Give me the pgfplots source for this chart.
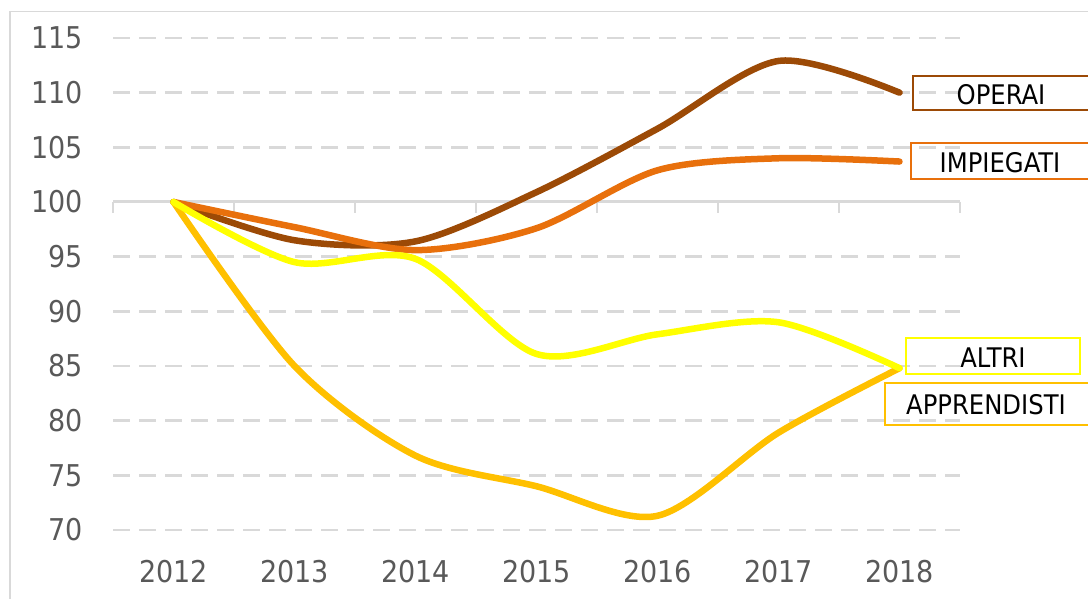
\documentclass[border=0pt]{standalone}
\usepackage{fontspec}
\setmainfont{DejaVu Sans Condensed}
\usepackage{pgfplots}
\pgfplotsset{compat=1.18}
\definecolor{cOper}{HTML}{9C4A06}
\definecolor{cImp}{HTML}{E8700C}
\definecolor{cAltri}{HTML}{FFFF00}
\definecolor{cApp}{HTML}{FFC000}
\definecolor{gridc}{HTML}{D9D9D9}
\definecolor{tickc}{HTML}{595959}
\begin{document}
\begin{tikzpicture}[x=1pt,y=1pt]
\useasboundingbox (0,0) rectangle (1088,599);
\draw[gridc, line width=1.5pt] (10,-20) -- (10,587.5) -- (1110,587.5);
\begin{axis}[at={(113pt,69pt)}, anchor=south west, scale only axis,
  width=847pt, height=492pt,
  xmin=2011.5, xmax=2018.5, ymin=70, ymax=115,
  clip=false, no markers,
  axis line style={draw=none},
  major tick style={draw=none},
  xtick={2012,2013,2014,2015,2016,2017,2018},
  xticklabels={2012,2013,2014,2015,2016,2017,2018},
  ytick={70,75,80,85,90,95,100,105,110,115},
  ymajorgrids,
  grid style={gridc, line width=2.5pt, dash pattern=on 17pt off 9pt},
  /pgf/number format/assume math mode=true,
  ticklabel style={font=\fontsize{30}{33}\selectfont, text=tickc, inner sep=0pt},
  xticklabel style={anchor=north, yshift=-30pt},
  yticklabel style={anchor=east, xshift=-30pt},
]
\draw[gridc, line width=3pt] (axis cs:2011.5,100) -- (axis cs:2018.5,100);
\draw[gridc, line width=2.5pt] (axis cs:2011.5,100) -- ++(0pt,-11pt);
\draw[gridc, line width=2.5pt] (axis cs:2012.5,100) -- ++(0pt,-11pt);
\draw[gridc, line width=2.5pt] (axis cs:2013.5,100) -- ++(0pt,-11pt);
\draw[gridc, line width=2.5pt] (axis cs:2014.5,100) -- ++(0pt,-11pt);
\draw[gridc, line width=2.5pt] (axis cs:2015.5,100) -- ++(0pt,-11pt);
\draw[gridc, line width=2.5pt] (axis cs:2016.5,100) -- ++(0pt,-11pt);
\draw[gridc, line width=2.5pt] (axis cs:2017.5,100) -- ++(0pt,-11pt);
\draw[gridc, line width=2.5pt] (axis cs:2018.5,100) -- ++(0pt,-11pt);
\addplot[cOper, line width=6.5pt, smooth, line cap=round, line join=round] coordinates {
 (2012,100) (2013,96.5) (2014,96.4) (2015,100.9) (2016,106.7) (2017,112.9) (2018,110.0)};
\addplot[cImp, line width=6.5pt, smooth, line cap=round, line join=round] coordinates {
 (2012,100) (2013,97.7) (2014,95.6) (2015,97.6) (2016,102.9) (2017,104.0) (2018,103.7)};
\addplot[cApp, line width=6.5pt, smooth, line cap=round, line join=round] coordinates {
 (2012,100) (2013,85.0) (2014,76.8) (2015,74.0) (2016,71.3) (2017,78.9) (2018,84.8)};
\addplot[cAltri, line width=6.5pt, smooth, line cap=round, line join=round] coordinates {
 (2012,100) (2013,94.5) (2014,94.8) (2015,86.1) (2016,87.9) (2017,89.0) (2018,84.8)};
\end{axis}
\tikzset{lab/.style={font=\fontsize{27}{31}\selectfont, text=black, inner sep=0pt}}
\draw[cOper, line width=2pt] (913,523.3) rectangle (1100,489);
\node[lab] at (1001,504.8) {OPERAI};
\draw[cImp, line width=2pt] (911,456.3) rectangle (1100,420.3);
\node[lab] at (1000,436.5) {IMPIEGATI};
\draw[cAltri, line width=2pt] (906,261) rectangle (1080,225);
\node[lab] at (993,241.5) {ALTRI};
\draw[cApp, line width=2pt] (885,216) rectangle (1100,174);
\node[lab] at (986,194) {APPRENDISTI};
\end{tikzpicture}
\end{document}
